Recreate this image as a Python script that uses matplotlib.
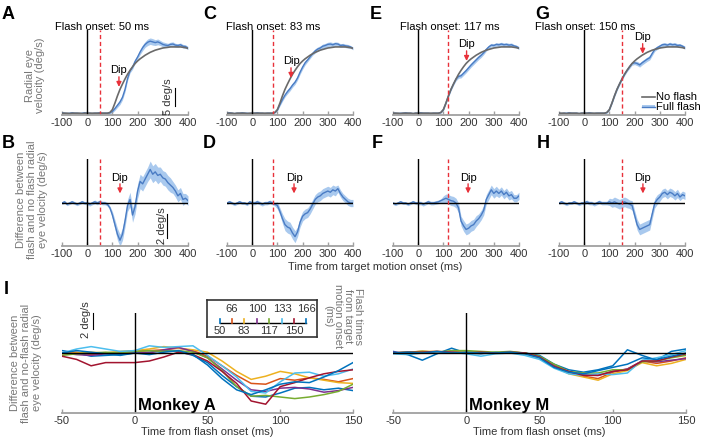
import matplotlib.pyplot as plt
import numpy as np

plt.rcParams['font.family'] = ['Liberation Sans', 'DejaVu Sans']
plt.rcParams['axes.unicode_minus'] = False

# %%
#Time from target motion onset (ms), one sample every 10 ms
t = np.arange(-100, 401, 10)

flash_onsets = [50, 83, 117, 150]
top_letters = ['A', 'C', 'E', 'G']
bottom_letters = ['B', 'D', 'F', 'H']

#Radial eye velocity (deg/s), no flash trials
no_flash = [0.2, 0.2, 0.2, 0.1, 0.2, 0.2, 0.2, 0.2, 0.1, 0.2, 0.2, 0.2, 0.2, 0.2, 0.2, 0.2, 0.2, 0.2, 0.2,
            0.4, 1.2, 3.0, 5.0, 6.8, 8.3, 9.7, 11.0, 12.1, 13.1, 14.0, 14.7, 15.3, 15.8, 16.3, 16.7, 17.1,
            17.4, 17.7, 17.9, 18.1, 18.3, 18.4, 18.5, 18.6, 18.6, 18.6, 18.6, 18.6, 18.5, 18.4, 18.2]

#Radial eye velocity (deg/s), full flash trials, one list per flash onset
full_flash_50 = [0.3, 0.2, 0.1, 0.2, 0.3, 0.2, 0.2, 0.1, 0.2, 0.3, 0.2, 0.2, 0.1, 0.2, 0.2, 0.3, 0.2, 0.2, 0.2,
                 0.3, 0.7, 1.5, 2.4, 3.3, 4.6, 6.8, 9.8, 12.0, 13.0, 14.6, 15.8, 17.2, 18.4, 19.3, 19.9, 20.2,
                 20.0, 19.8, 20.0, 19.7, 19.3, 19.1, 19.0, 19.3, 19.4, 19.1, 19.0, 19.2, 18.8, 18.7, 18.3]
full_flash_83 = [0.2, 0.3, 0.2, 0.1, 0.2, 0.2, 0.3, 0.2, 0.2, 0.1, 0.2, 0.2, 0.3, 0.2, 0.2, 0.1, 0.2, 0.2, 0.2,
                 0.4, 1.1, 2.6, 4.0, 5.2, 6.2, 7.0, 8.0, 8.8, 10.0, 11.6, 13.0, 14.2, 15.0, 15.9, 16.8, 17.5,
                 18.0, 18.3, 18.8, 19.0, 19.3, 19.4, 19.2, 19.5, 19.4, 19.0, 19.1, 18.9, 18.8, 18.6, 18.2]
full_flash_117 = [0.2, 0.2, 0.1, 0.2, 0.2, 0.3, 0.2, 0.2, 0.1, 0.2, 0.2, 0.3, 0.2, 0.2, 0.2, 0.1, 0.2, 0.2, 0.2,
                  0.4, 1.2, 3.0, 5.0, 6.8, 8.3, 9.7, 10.4, 10.6, 11.3, 12.0, 12.8, 13.6, 14.3, 15.0, 15.7, 16.3,
                  17.0, 17.9, 18.6, 19.1, 19.0, 19.3, 19.2, 19.4, 19.2, 19.3, 19.1, 19.2, 18.9, 18.7, 18.3]
full_flash_150 = [0.2, 0.1, 0.2, 0.2, 0.3, 0.2, 0.2, 0.2, 0.1, 0.2, 0.2, 0.2, 0.3, 0.2, 0.1, 0.2, 0.2, 0.2, 0.2,
                  0.4, 1.2, 3.0, 5.0, 6.8, 8.3, 9.7, 11.0, 12.1, 13.1, 14.0, 14.2, 14.0, 13.6, 14.2, 14.7, 15.2,
                  15.6, 16.8, 17.9, 18.4, 18.8, 19.2, 19.3, 19.1, 19.4, 19.2, 19.3, 19.0, 19.1, 18.8, 18.4]

sem_top_50 = [0.2] * 20 + [0.4, 0.5, 0.6, 0.7, 0.7, 0.7, 0.6, 0.6, 0.6, 0.6, 0.6, 0.7, 0.8, 0.8, 0.9, 0.9,
                           0.9, 0.8, 0.8, 0.7, 0.7, 0.7, 0.6, 0.6, 0.6, 0.5, 0.5, 0.5, 0.5, 0.5, 0.4]
sem_top_83 = [0.2] * 20 + [0.3, 0.4, 0.5, 0.5, 0.6, 0.6, 0.6, 0.6, 0.6, 0.6, 0.6, 0.6, 0.5, 0.5, 0.5, 0.6,
                           0.6, 0.6, 0.6, 0.6, 0.6, 0.6, 0.6, 0.5, 0.5, 0.5, 0.5, 0.5, 0.5, 0.4, 0.4]
sem_top_117 = [0.2] * 20 + [0.3, 0.3, 0.4, 0.4, 0.4, 0.5, 0.5, 0.6, 0.6, 0.6, 0.6, 0.6, 0.6, 0.6, 0.6, 0.6,
                            0.5, 0.5, 0.5, 0.5, 0.5, 0.5, 0.5, 0.5, 0.5, 0.5, 0.5, 0.5, 0.4, 0.4, 0.4]
sem_top_150 = [0.2] * 20 + [0.3, 0.3, 0.4, 0.4, 0.4, 0.4, 0.4, 0.4, 0.5, 0.5, 0.5, 0.6, 0.6, 0.6, 0.6, 0.6,
                            0.6, 0.6, 0.5, 0.5, 0.5, 0.5, 0.5, 0.5, 0.5, 0.5, 0.5, 0.5, 0.4, 0.4, 0.4]

#Difference between flash and no flash (deg/s)
diff_50 = [0.0, 0.1, -0.1, 0.0, 0.1, 0.0, -0.1, 0.0, 0.1, 0.0, 0.0, -0.1, 0.0, 0.1, 0.0, 0.1, 0.0,
           0.0, -0.1, -0.4, -1.0, -1.8, -2.6, -3.1, -2.6, -1.5, -0.2, 0.3, -1.0, -0.3, 1.0, 1.8, 1.6, 2.0,
           2.4, 2.8, 2.4, 2.6, 2.3, 2.4, 2.1, 2.0, 1.7, 1.5, 1.3, 1.0, 0.6, 0.8, 0.3, 0.4, 0.2]
diff_83 = [0.0, 0.1, 0.0, -0.1, 0.0, 0.1, 0.0, 0.0, -0.1, 0.1, 0.0, 0.0, 0.1, 0.0, -0.1, 0.0, 0.0, 0.1, 0.0, -0.1,
           -0.2, -0.7, -1.3, -1.8, -2.0, -2.1, -2.5, -2.8, -2.4, -1.6, -1.1, -0.9, -0.8, -0.5, -0.1, 0.3,
           0.5, 0.6, 0.8, 0.9, 1.0, 0.9, 1.1, 1.0, 1.2, 0.8, 0.5, 0.3, 0.1, 0.0, 0.0]
diff_117 = [0.0, -0.1, 0.0, 0.1, 0.0, 0.0, -0.1, 0.0, 0.1, 0.0, 0.0, 0.0, -0.1, 0.0, 0.1, 0.0, 0.0,
            0.05, 0.1, 0.2, 0.3, 0.4, 0.3, 0.2, 0.15, 0.0, -0.4, -1.5, -1.9, -2.2, -2.1, -1.9, -1.8, -1.5,
            -1.3, -1.0, -0.6, 0.3, 0.7, 1.1, 0.8, 1.0, 0.8, 1.0, 0.7, 0.9, 0.6, 0.7, 0.4, 0.4, 0.6]
diff_150 = [0.0, 0.1, 0.0, -0.1, 0.0, 0.0, 0.1, 0.0, -0.1, 0.0, 0.0, 0.1, 0.0, 0.0, -0.1, 0.0, 0.1, 0.0, 0.0,
            0.0, 0.1, 0.0, 0.1, 0.0, -0.1, 0.0, 0.1, 0.0, -0.1,
            -0.2, -1.0, -1.8, -2.2, -2.1, -2.0, -1.9, -1.8, -0.9, 0.0, 0.3, 0.5, 0.8, 0.9, 0.7, 0.9, 0.8,
            0.6, 0.8, 0.5, 0.7, 0.6]

sem_diff_50 = [0.12] * 10 + [0.15] * 10 + [0.3, 0.4, 0.5, 0.5, 0.5, 0.5, 0.5, 0.6, 0.6, 0.6, 0.6, 0.6, 0.6,
                                           0.6, 0.6, 0.7, 0.7, 0.7, 0.7, 0.6, 0.6, 0.6, 0.6, 0.6, 0.5, 0.5,
                                           0.5, 0.5, 0.5, 0.4, 0.4]
sem_diff_83 = [0.12] * 10 + [0.15] * 10 + [0.3, 0.3, 0.4, 0.5, 0.5, 0.5, 0.5, 0.5, 0.4, 0.4, 0.4, 0.4, 0.4,
                                           0.4, 0.4, 0.4, 0.4, 0.4, 0.4, 0.4, 0.4, 0.4, 0.4, 0.4, 0.3, 0.3,
                                           0.3, 0.3, 0.3, 0.3, 0.3]
sem_diff_117 = [0.12] * 10 + [0.15] * 10 + [0.3, 0.35, 0.4, 0.4, 0.4, 0.4, 0.4, 0.4, 0.45, 0.45, 0.45, 0.45,
                                            0.45, 0.45, 0.4, 0.4, 0.4, 0.4, 0.4, 0.4, 0.4, 0.4, 0.35, 0.35,
                                            0.35, 0.35, 0.35, 0.35, 0.3, 0.3, 0.3]
sem_diff_150 = [0.12] * 10 + [0.15] * 10 + [0.3, 0.35, 0.4, 0.4, 0.4, 0.4, 0.4, 0.4, 0.35, 0.4, 0.4, 0.45,
                                            0.45, 0.45, 0.45, 0.45, 0.45, 0.4, 0.4, 0.4, 0.35, 0.35, 0.35,
                                            0.35, 0.35, 0.35, 0.35, 0.35, 0.3, 0.3, 0.3]

full_flash = [full_flash_50, full_flash_83, full_flash_117, full_flash_150]
sem_top = [sem_top_50, sem_top_83, sem_top_117, sem_top_150]
diffs = [diff_50, diff_83, diff_117, diff_150]
sem_diff = [sem_diff_50, sem_diff_83, sem_diff_117, sem_diff_150]

# %%
#Panel I: difference traces vs time from flash onset, one per flash time
t_flash = np.arange(-50, 151, 10)
flash_times = [50, 66, 83, 100, 117, 133, 150, 166]
monkey_a = [
    [0.3, 0.0, -0.4, -0.3, -0.2, 0.0, 0.1, 0.3, 0.2, -0.3, -1.2, -2.8, -4.2, -5.4, -5.5, -5.0, -4.4, -4.3, -4.6, -4.4, -4.7],
    [0.0, 0.1, -0.2, 0.0, 0.1, 0.2, 0.3, 0.4, 0.6, 0.3, -0.4, -1.6, -2.8, -3.8, -3.9, -3.2, -3.4, -3.1, -3.3, -3.6, -3.2],
    [-0.1, 0.0, 0.1, 0.0, 0.2, 0.3, 0.5, 0.8, 0.6, 0.4, 0.1, -1.0, -2.3, -3.3, -2.9, -2.3, -2.6, -3.1, -3.4, -3.7, -3.8],
    [0.0, -0.2, -0.3, -0.1, 0.0, 0.1, 0.0, 0.4, 0.7, 0.2, -0.6, -2.0, -3.4, -4.6, -4.8, -4.4, -4.3, -4.5, -4.9, -4.7, -4.3],
    [-0.3, -0.1, 0.0, 0.1, 0.0, 0.2, 0.3, 0.2, 0.3, 0.1, -0.6, -2.2, -4.2, -5.4, -5.3, -5.5, -5.7, -5.5, -5.2, -4.8, -3.9],
    [0.0, 0.5, 0.8, 0.5, 0.2, 0.3, 0.9, 0.7, 0.8, 0.9, -0.3, -1.6, -3.0, -4.8, -5.0, -3.6, -2.5, -2.4, -2.9, -2.6, -2.0],
    [-0.4, -0.8, -1.6, -1.2, -1.2, -1.2, -1.0, -0.5, 0.1, -0.2, -1.0, -2.3, -3.8, -6.0, -6.4, -4.2, -3.7, -3.1, -2.6, -2.3, -2.1],
    [0.0, 0.3, 0.1, -0.1, -0.3, 0.0, -0.2, 0.1, 0.3, -0.2, -1.5, -3.2, -4.6, -5.2, -4.6, -3.9, -3.6, -3.7, -3.0, -2.2, -1.2],
]
monkey_m = [
    [0.2, -0.2, -0.9, -0.1, 0.6, 0.0, -0.1, 0.1, 0.0, 0.0, -0.3, -1.4, -2.1, -2.4, -2.1, -1.6, 0.4, -0.3, -0.9, 0.2, 0.5],
    [0.0, 0.1, 0.2, 0.1, 0.2, 0.2, 0.1, 0.0, 0.1, 0.0, -0.5, -1.6, -2.4, -2.9, -3.2, -2.4, -2.0, -1.0, -1.3, -1.0, -0.6],
    [0.0, 0.1, 0.2, 0.2, 0.1, 0.2, 0.1, 0.0, 0.1, -0.1, -0.6, -1.7, -2.6, -3.0, -3.4, -2.6, -2.2, -1.2, -1.6, -1.3, -0.8],
    [0.1, 0.0, 0.1, 0.0, 0.1, 0.0, 0.0, 0.0, 0.1, 0.0, -0.5, -1.5, -2.4, -2.7, -2.8, -2.3, -2.0, -1.0, -1.1, -0.9, -0.7],
    [0.0, 0.1, 0.2, 0.1, 0.3, 0.3, 0.2, 0.1, 0.2, 0.0, -0.4, -1.4, -2.3, -2.5, -2.5, -2.1, -2.1, -1.1, -1.0, -0.6, -0.3],
    [-0.1, -0.2, 0.0, 0.0, 0.1, -0.1, -0.4, -0.1, 0.0, -0.3, -0.8, -1.9, -2.6, -2.8, -2.6, -2.7, -2.5, -0.9, -0.6, -0.2, 0.3],
    [0.0, 0.1, 0.1, 0.2, 0.1, 0.0, 0.1, 0.0, 0.1, 0.0, -0.5, -1.7, -2.3, -2.8, -2.8, -2.3, -2.1, -1.0, -1.0, -0.5, -0.1],
    [0.0, 0.1, 0.0, 0.2, 0.0, 0.1, 0.0, 0.0, 0.1, -0.1, -0.6, -1.8, -2.4, -2.6, -2.2, -1.8, -1.4, -0.6, -0.8, -0.4, 0.0],
]
flash_colors = ['#0072BD', '#D95319', '#EDB120', '#7E2F8E', '#77AC30', '#4DBEEE', '#A2142F', '#0072BD']

#Where the "Dip" arrows sit (x in ms, y for top row in deg/s)
dip_x_top = [126, 154, 192, 232]
dip_y_top = [12.2, 14.7, 19.4, 21.4]
dip_x_bottom = [130, 166, 198, 233]
onset_text_x = [-0.056, -0.008, 0.056, -0.19]

# %%
BLUE = '#4a7cc4'
BAND = '#a9c9ee'
GRAY = '#6a6a6a'
RED = '#e8313a'
AXC = '#a0a0a0'
TXT = '#333333'
FS = 8
W, H = 701, 443

fig = plt.figure(figsize=(W / 100, H / 100), dpi=100)


def px_axes(left, top, width, height):
    return fig.add_axes([left / W, 1 - (top + height) / H, width / W, height / H])


def style(ax):
    for s in ['top', 'right', 'left']:
        ax.spines[s].set_visible(False)
    ax.spines['bottom'].set_color(AXC)
    ax.spines['bottom'].set_linewidth(1.3)
    ax.set_yticks([])
    ax.tick_params(axis='x', direction='in', length=3, width=1, color=AXC,
                   labelsize=FS, labelcolor=TXT, pad=2)


def dip(ax, x, y_text, y0, y1):
    ax.text(x, y_text, 'Dip', ha='center', va='center', fontsize=FS)
    ax.annotate('', xy=(x, y1), xytext=(x, y0),
                arrowprops=dict(arrowstyle='-|>', color=RED, lw=1.0, mutation_scale=7,
                                shrinkA=0, shrinkB=0))


lefts = [62, 227, 393, 559]

#Top row: radial eye velocity
for i in range(4):
    ax = px_axes(lefts[i], 30, 126, 85)
    style(ax)
    ax.set_xlim(-100, 400)
    ax.set_ylim(-0.3, 23.3)
    ax.set_xticks([-100, 0, 100, 200, 300, 400])
    lo = np.array(full_flash[i]) - np.array(sem_top[i])
    hi = np.array(full_flash[i]) + np.array(sem_top[i])
    ax.fill_between(t, lo, hi, color=BAND, lw=0)
    ax.plot(t, full_flash[i], color=BLUE, lw=1.0)
    ax.plot(t, no_flash, color=GRAY, lw=1.2)
    ax.axvline(0, color='k', lw=1.0)
    ax.axvline(flash_onsets[i], color=RED, lw=1.0, ls=(0, (3, 2)))
    ax.text(onset_text_x[i], 1.0, 'Flash onset: %d ms' % flash_onsets[i],
            transform=ax.transAxes, ha='left', va='baseline', fontsize=FS)
    yt = dip_y_top[i]
    dip(ax, dip_x_top[i], yt, yt - 1.9, yt - 4.7)
    fig.text([2, 203, 370, 535][i] / W, 1 - 6 / H, top_letters[i],
             fontsize=13, fontweight='bold', va='top')
    if i == 0:
        ax.plot([348, 348], [2.2, 7.2], color='k', lw=0.8)
        ax.text(321, 4.7, '5 deg/s', rotation=90, ha='center', va='center', fontsize=FS, color=TXT)
    if i == 3:
        ax.fill_between([228, 281], [1.6, 1.6], [2.4, 2.4], color=BAND, lw=0, clip_on=False)
        ax.plot([228, 281], [2.0, 2.0], color=BLUE, lw=1.0, clip_on=False)
        ax.plot([228, 281], [4.8, 4.8], color=GRAY, lw=1.2, clip_on=False)
        ax.text(283, 4.8, 'No flash', va='center', fontsize=FS, clip_on=False)
        ax.text(283, 2.0, 'Full flash', va='center', fontsize=FS, clip_on=False)

fig.text(35 / W, 1 - 75 / H, 'Radial eye\nvelocity (deg/s)', rotation=90, ha='center',
         va='center', fontsize=FS, color='#777777', linespacing=1.1)

#Bottom row: flash minus no flash
for i in range(4):
    ax = px_axes(lefts[i], 159, 126, 87)
    style(ax)
    ax.set_xlim(-100, 400)
    ax.set_ylim(-3.58, 3.67)
    ax.set_xticks([-100, 0, 100, 200, 300, 400])
    lo = np.array(diffs[i]) - np.array(sem_diff[i])
    hi = np.array(diffs[i]) + np.array(sem_diff[i])
    ax.fill_between(t, lo, hi, color=BAND, lw=0)
    ax.plot(t, diffs[i], color=BLUE, lw=1.0)
    ax.axhline(0, color='k', lw=1.0)
    ax.axvline(0, color='k', lw=1.0)
    ax.axvline(flash_onsets[i], color=RED, lw=1.0, ls=(0, (3, 2)))
    dip(ax, dip_x_bottom[i], 2.1, 1.6, 0.8)
    fig.text([2, 203, 372, 537][i] / W, 1 - 135 / H, bottom_letters[i],
             fontsize=13, fontweight='bold', va='top')
    if i == 0:
        ax.plot([316, 316], [-0.9, -2.9], color='k', lw=0.8)
        ax.text(297, -1.9, '2 deg/s', rotation=90, ha='center', va='center', fontsize=FS, color=TXT)

fig.text(32 / W, 1 - 200 / H, 'Difference between\nflash and no flash radial\neye velocity (deg/s)',
         rotation=90, ha='center', va='center', fontsize=FS, color='#777777', linespacing=1.1)
fig.text(375 / W, 1 - 267 / H, 'Time from target motion onset (ms)', ha='center', va='center',
         fontsize=FS, color=TXT)

# %%
#Panel I
fig.text(4 / W, 1 - 281 / H, 'I', fontsize=13, fontweight='bold', va='top')
for k, (left, width, data, name) in enumerate([(62, 291, monkey_a, 'Monkey A'),
                                              (393, 293, monkey_m, 'Monkey M')]):
    ax = px_axes(left, 313, width, 100)
    style(ax)
    ax.set_xlim(-50, 150)
    ax.set_ylim(-7.5, 5)
    ax.set_xticks([-50, 0, 50, 100, 150])
    ax.set_xlabel('Time from flash onset (ms)', fontsize=FS, color=TXT, labelpad=1)
    for trace, c in zip(data, flash_colors):
        ax.plot(t_flash, trace, color=c, lw=1.1)
    ax.axhline(0, color='k', lw=1.0)
    ax.axvline(0, color='k', lw=1.0)
    ax.text(2, -6.6, name, fontsize=12, fontweight='bold', ha='left', va='center')
    if k == 0:
        ax.plot([-28.7, -28.7], [5, 3], color='k', lw=0.8, clip_on=False)
        ax.text(-33.5, 4.2, '2 deg/s', rotation=90, ha='center', va='center', fontsize=FS,
                color=TXT, clip_on=False)

fig.text(26 / W, 1 - 363 / H, 'Difference between\nflash and no-flash radial\neye velocity (deg/s)',
         rotation=90, ha='center', va='center', fontsize=FS, color='#777777', linespacing=1.1)

#Flash time key
lg = px_axes(207, 300, 110, 37)
lg.set_xlim(207, 317)
lg.set_ylim(337, 300)
lg.set_xticks([])
lg.set_yticks([])
for s in lg.spines.values():
    s.set_color('#333333')
    s.set_linewidth(1.2)
key_x = [220, 232, 244, 257, 269, 282, 294, 306]
lg.plot([key_x[0], key_x[-1]], [323.3, 323.3], color='k', lw=1.0)
for j, (x, c) in enumerate(zip(key_x, flash_colors)):
    lg.plot([x, x], [323.3, 318.5], color=c, lw=1.2)
    if j % 2:
        lg.text(x, 309, str(flash_times[j]), ha='center', va='center', fontsize=FS, color=TXT)
    else:
        lg.text(x, 331.5, str(flash_times[j]), ha='center', va='center', fontsize=FS, color=TXT)

fig.text(343 / W, 1 - 316 / H, 'Flash times\nfrom target\nmotion onset\n(ms)', rotation=270,
         ha='center', va='center', fontsize=FS, color='#777777', linespacing=1.0, multialignment='center')

fig.savefig('out.png', dpi=100)
